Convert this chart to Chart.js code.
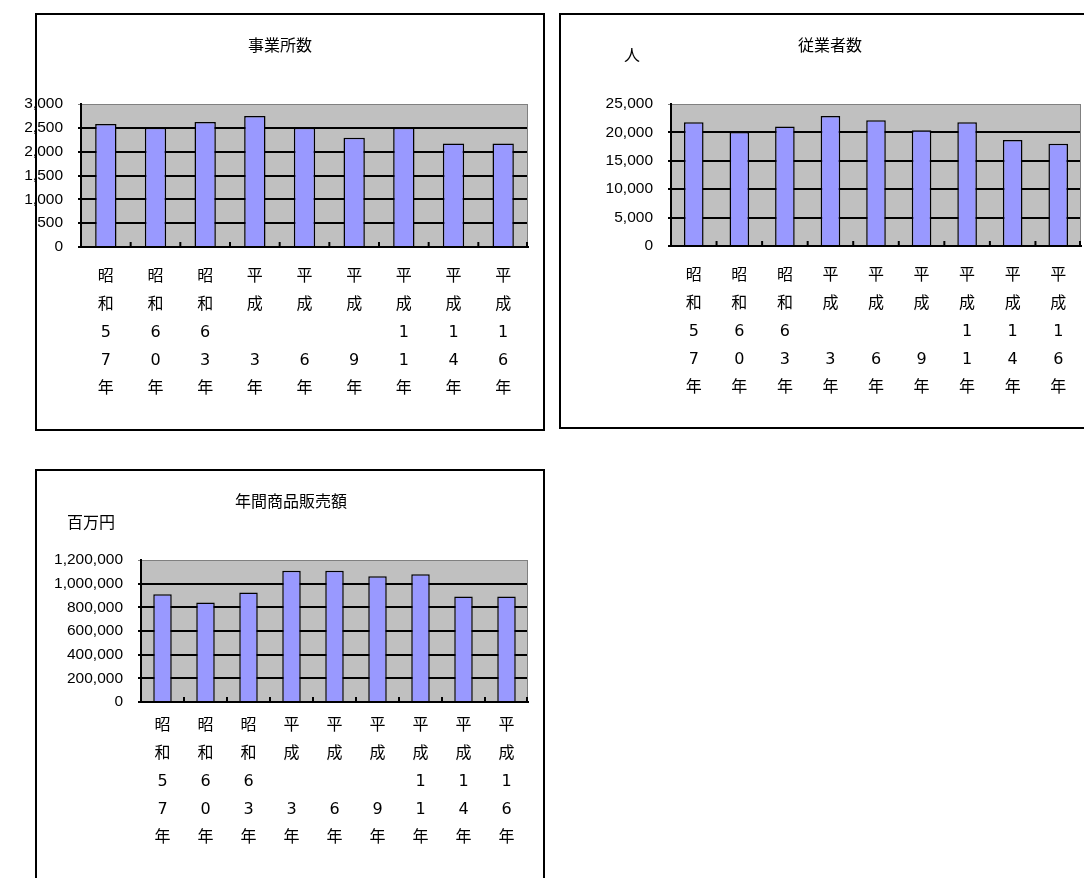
<!DOCTYPE html>
<html lang="ja">
<head>
<meta charset="utf-8">
<title>事業所数・従業者数・年間商品販売額</title>
<script src="https://cdn.jsdelivr.net/npm/chart.js@4.4.1/dist/chart.umd.min.js"></script>
<style>
  html,body{margin:0;padding:0;background:#fff;overflow:hidden;width:1084px;height:878px;}
  .box{position:absolute;box-sizing:border-box;border:2px solid #000;background:#fff;}
  canvas{position:absolute;}
</style>
</head>
<body>
<div class="box" style="left:35px;top:13px;width:510px;height:418px;"></div>
<div class="box" style="left:559px;top:13px;width:545px;height:416px;"></div>
<div class="box" style="left:35px;top:469px;width:510px;height:430px;"></div>
<canvas id="c1" width="533" height="414" style="left:10px;top:15px;"></canvas>
<canvas id="c2" width="541" height="412" style="left:561px;top:15px;"></canvas>
<canvas id="c3" width="506" height="426" style="left:37px;top:471px;"></canvas>
<script>
/* ===== data ===== */
const years=[
  ["昭","和","5","7","年"],
  ["昭","和","6","0","年"],
  ["昭","和","6","3","年"],
  ["平","成","","3","年"],
  ["平","成","","6","年"],
  ["平","成","","9","年"],
  ["平","成","1","1","年"],
  ["平","成","1","4","年"],
  ["平","成","1","6","年"]
];
const establishments=[2580,2500,2620,2750,2500,2290,2500,2170,2170];
const employees=[21800,20050,21050,22900,22150,20400,21800,18650,17980];
const sales=[910000,840000,925000,1110000,1110000,1062000,1080000,892000,892000];

const titles=["事業所数","従業者数","年間商品販売額"];
const units=["","人","百万円"];
const yMax=[3000,25000,1200000];
const ySteps=[500,5000,200000];

const $=(q)=>document.querySelector(q);
const JP='"Noto Sans CJK JP","Noto Sans",sans-serif';
const LBL='"DejaVu Sans","Noto Sans CJK JP",sans-serif';
const NUM='"Liberation Sans",Arial,sans-serif';
const BAR="#9999FF", PLOT="#C0C0C0", FRAME="#808080";

/* plot background, grey right frame, inward tick marks, title + unit text */
const excelLook={
  id:"excelLook",
  beforeDraw(c){
    const a=c.chartArea, x=c.ctx;
    x.save(); x.fillStyle=PLOT; x.fillRect(a.left,a.top,a.right-a.left,a.bottom-a.top); x.restore();
  },
  afterDatasetsDraw(c,args,o){
    const a=c.chartArea, x=c.ctx, sx=c.scales.x, n=c.data.labels.length;
    x.save();
    x.strokeStyle=FRAME; x.lineWidth=1;
    x.beginPath(); x.moveTo(a.right-0.5,a.top); x.lineTo(a.right-0.5,a.bottom); x.stroke();
    x.strokeStyle="#000"; x.lineWidth=2;
    for(let i=1;i<=n;i++){
      const px=i<n?(sx.getPixelForValue(i-1)+sx.getPixelForValue(i))/2:a.right-1;
      x.beginPath(); x.moveTo(px,a.bottom); x.lineTo(px,a.bottom-5); x.stroke();
    }
    x.fillStyle="#000"; x.font="16px "+JP; x.textAlign="center"; x.textBaseline="middle";
    x.fillText(o.title,o.tx,o.ty);
    if(o.unit) x.fillText(o.unit,o.ux,o.uy);
    x.restore();
  }
};

function makeChart(id,data,k,cfg){
  const ctx=$(id).getContext("2d");
  return new Chart(ctx,{
    type:"bar",
    data:{labels:years,datasets:[{data,backgroundColor:BAR,borderColor:"#000",borderWidth:1.5,
      categoryPercentage:1,barPercentage:0.43}]},
    plugins:[excelLook],
    options:{
      responsive:false,animation:false,devicePixelRatio:1,
      layout:{padding:{left:0,right:cfg.padRight,top:89,bottom:0}},
      plugins:{
        legend:{display:false},tooltip:{enabled:false},title:{display:false},
        excelLook:{title:titles[k],tx:cfg.tx,ty:30,unit:units[k],ux:cfg.ux,uy:cfg.uy}
      },
      scales:{
        x:{
          grid:{display:true,drawOnChartArea:false,drawTicks:false},
          border:{display:true,color:"#000",width:2},
          ticks:{color:"#000",font:{family:LBL,size:16,lineHeight:1.75},padding:cfg.xPad,maxRotation:0,autoSkip:false},
          afterFit(s){ s.height=cfg.xH; }
        },
        y:{
          min:0,max:yMax[k],
          grid:{color:(c)=>c.tick&&c.tick.value===yMax[k]?FRAME:"#000",lineWidth:(c)=>c.tick&&c.tick.value===yMax[k]?1:2,tickLength:3},
          border:{display:true,color:"#000",width:2},
          ticks:{stepSize:ySteps[k],color:"#000",padding:15,font:{family:NUM,size:15.5},
            callback:(v)=>Number(v).toLocaleString("en-US")},
          afterFit(s){ s.width=cfg.yW; }
        }
      }
    }
  });
}

makeChart("#c1",establishments,0,{padRight:15,yW:71,xH:182,xPad:16,tx:270,ux:0,uy:0});
makeChart("#c2",employees,1,{padRight:21,yW:110,xH:181,xPad:16,tx:269,ux:71,uy:40});
makeChart("#c3",sales,2,{padRight:15,yW:104,xH:195,xPad:10,tx:254,ux:54,uy:51});
</script>
</body>
</html>
